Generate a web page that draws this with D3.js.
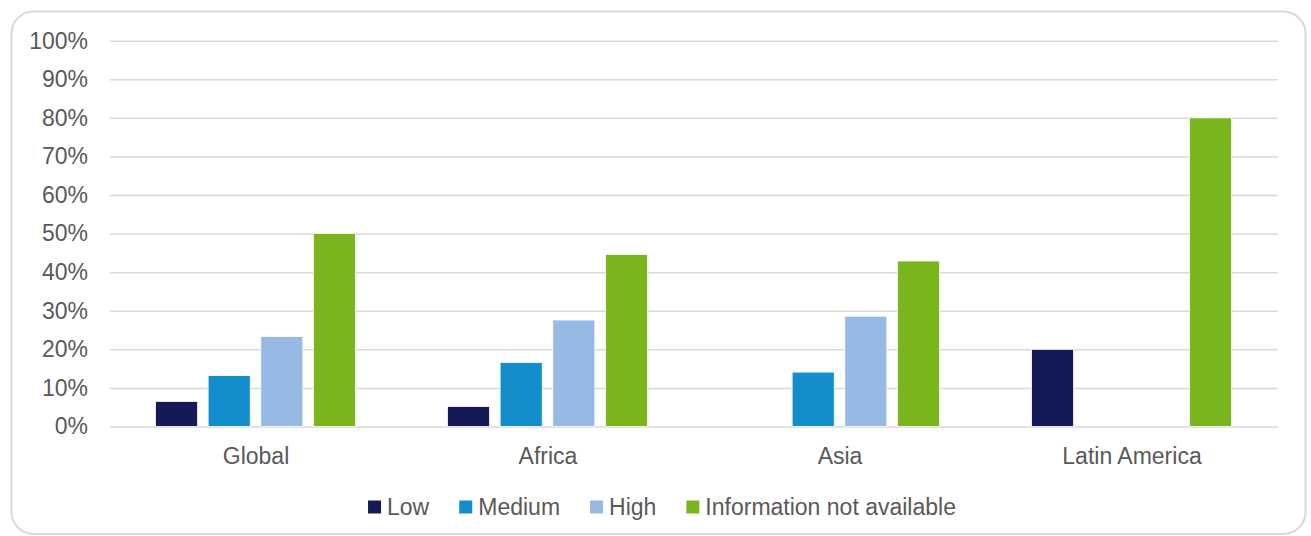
<!DOCTYPE html>
<html>
<head>
<meta charset="utf-8">
<script src="https://cdn.jsdelivr.net/npm/d3@7"></script>
<style>
  html, body { margin: 0; padding: 0; background: #fff; }
  svg { display: block; font-family: "Liberation Sans", Arial, sans-serif; }
</style>
</head>
<body>
<svg id="chart" width="1311" height="536"></svg>
<script>
const categories = ["Global", "Africa", "Asia", "Latin America"];
const seriesNames = ["Low", "Medium", "High", "Information not available"];
const seriesColors = ["#131a55", "#148dcd", "#96bae3", "#7ab51e"];
const lowValues = [6.5, 5.2, 0, 20];
const mediumValues = [13.2, 16.6, 14.1, 0];
const highValues = [23.3, 27.6, 28.6, 0];
const naValues = [50, 44.6, 42.9, 80];
const yTicks = [0, 10, 20, 30, 40, 50, 60, 70, 80, 90, 100];

const seriesValues = [lowValues, mediumValues, highValues, naValues];

const svg = d3.select("#chart");
const textColor = "#595959";
const fontSize = 23;

// outer rounded frame
svg.append("rect")
  .attr("x", 11.5).attr("y", 11.5)
  .attr("width", 1294).attr("height", 522.5)
  .attr("rx", 22).attr("ry", 22)
  .attr("fill", "#fff")
  .attr("stroke", "#d9d9d9")
  .attr("stroke-width", 2);

const plotLeft = 110, plotRight = 1278;
const y = d3.scaleLinear().domain([0, 100]).range([426.5, 40.7]);
const x0 = d3.scaleBand().domain(categories).range([plotLeft, plotRight]).padding(0);
const groupW = 200;
const bandCenterOffset = 145.5;
const x1 = d3.scaleBand().domain(seriesNames)
  .range([bandCenterOffset - groupW / 2, bandCenterOffset + groupW / 2])
  .paddingInner(0.2).paddingOuter(0);

// gridlines + y labels via axis
const yAxis = d3.axisLeft(y).tickValues(yTicks)
  .tickSize(-(plotRight - plotLeft)).tickPadding(22)
  .tickFormat(d => d + "%");
const gy = svg.append("g").attr("transform", `translate(${plotLeft},0)`).call(yAxis);
gy.select(".domain").remove();
gy.selectAll(".tick line").attr("stroke", "#d9d9d9").attr("stroke-width", 1.5);
gy.selectAll(".tick text")
  .attr("fill", textColor)
  .attr("font-size", fontSize)
  .attr("font-family", "Liberation Sans, Arial, sans-serif");

// bars
const groups = svg.append("g").selectAll("g")
  .data(categories)
  .join("g")
  .attr("transform", d => `translate(${x0(d)},0)`);

groups.selectAll("rect")
  .data((c, ci) => seriesNames.map((s, si) => ({ s, si, v: seriesValues[si][ci] })).filter(d => d.v > 0))
  .join("rect")
  .attr("x", d => x1(d.s))
  .attr("width", x1.bandwidth())
  .attr("y", d => y(d.v))
  .attr("height", d => y(0) - y(d.v))
  .attr("fill", d => seriesColors[d.si])
  .attr("stroke", "#ffffff")
  .attr("stroke-width", 0.8);

// category axis labels
const xAxis = d3.axisBottom(x0).tickSize(0).tickPadding(0);
const gx = svg.append("g").attr("transform", `translate(0,456)`).call(xAxis);
gx.select(".domain").remove();
gx.selectAll(".tick text")
  .attr("fill", textColor)
  .attr("font-size", fontSize)
  .attr("font-family", "Liberation Sans, Arial, sans-serif")
  .attr("dy", "0.35em")
  .attr("y", 0);

// legend
const legend = svg.append("g");
const sq = 13, gapText = 6, gapItem = 30;
let cx = 0;
seriesNames.forEach((name, i) => {
  const g = legend.append("g");
  g.append("rect").attr("x", 0).attr("y", -sq / 2).attr("width", sq).attr("height", sq).attr("fill", seriesColors[i]);
  const t = g.append("text").attr("x", sq + gapText).attr("y", 0).attr("dy", "0.35em")
    .attr("fill", textColor).attr("font-size", fontSize).text(name);
  const w = sq + gapText + t.node().getComputedTextLength();
  g.attr("transform", `translate(${cx},0)`);
  cx += w + gapItem;
});
const totalW = cx - gapItem;
legend.attr("transform", `translate(${662 - totalW / 2},507)`);
</script>
</body>
</html>
